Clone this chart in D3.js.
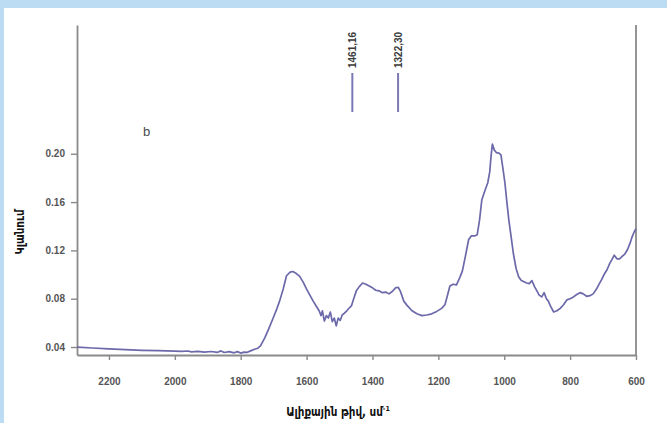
<!DOCTYPE html>
<html>
<head>
<meta charset="utf-8">
<script src="https://cdn.jsdelivr.net/npm/d3@7"></script>
<style>
  html, body { margin: 0; padding: 0; background: #ffffff; }
  svg { display: block; }
</style>
</head>
<body>
<script>
// IR spectrum: wavenumber (cm^-1) vs absorbance
const wavenumbers = [
  2297, 2250, 2200, 2150, 2100, 2050, 2000, 1980, 1960, 1950, 1930, 1910, 1890, 1870, 1860,
  1850, 1835, 1820, 1810, 1800, 1790, 1780, 1770, 1758, 1748, 1740, 1727, 1715, 1703, 1692,
  1682, 1671, 1661, 1650, 1642, 1632, 1621, 1610, 1600, 1590, 1580, 1570, 1562, 1556, 1552,
  1546, 1540, 1534, 1528, 1522, 1516, 1510, 1504, 1498, 1492, 1485, 1478, 1470, 1464, 1457,
  1449, 1440, 1430, 1420, 1410, 1400, 1390, 1380, 1370, 1360, 1350, 1340, 1330, 1322, 1315,
  1305, 1295, 1280, 1265, 1250, 1235, 1220, 1205, 1190, 1180, 1172, 1165, 1155, 1145, 1135,
  1127, 1118, 1108, 1100, 1090, 1082, 1075, 1068, 1058, 1050, 1044, 1040, 1036, 1030, 1024,
  1016, 1010, 1004, 998, 992, 986, 980, 972, 964, 956, 948, 940, 932, 924, 916,
  908, 900, 894, 886, 879, 872, 866, 860, 850, 840, 830, 820, 810, 800, 790,
  780, 770, 760, 750, 740, 730, 720, 712, 704, 697, 688, 680, 672, 666, 658,
  650, 642, 634, 626, 618, 612, 606, 600
];
const absorbance = [
  0.0400, 0.0392, 0.0385, 0.0378, 0.0373, 0.0370, 0.0366, 0.0364, 0.0367, 0.0360, 0.0364, 0.0358, 0.0363, 0.0356, 0.0368,
  0.0355, 0.0362, 0.0352, 0.0362, 0.0350, 0.0358, 0.0356, 0.0368, 0.0382, 0.0390, 0.0410, 0.0476, 0.0550, 0.0630, 0.0705,
  0.0780, 0.0880, 0.0990, 0.1020, 0.1025, 0.1010, 0.0985, 0.0935, 0.0880, 0.0830, 0.0780, 0.0735, 0.0700, 0.0660, 0.0700,
  0.0615, 0.0660, 0.0640, 0.0690, 0.0610, 0.0640, 0.0575, 0.0640, 0.0620, 0.0665, 0.0680, 0.0700, 0.0725, 0.0740, 0.0800,
  0.0865, 0.0900, 0.0930, 0.0920, 0.0905, 0.0890, 0.0870, 0.0865, 0.0850, 0.0855, 0.0840, 0.0860, 0.0890, 0.0895, 0.0860,
  0.0780, 0.0745, 0.0700, 0.0675, 0.0660, 0.0665, 0.0675, 0.0695, 0.0720, 0.0750, 0.0830, 0.0905, 0.0920, 0.0915, 0.0975,
  0.1030, 0.1150, 0.1290, 0.1320, 0.1320, 0.1330, 0.1450, 0.1620, 0.1700, 0.1760, 0.1850, 0.1980, 0.2080, 0.2030, 0.2010,
  0.2005, 0.1990, 0.1880, 0.1760, 0.1600, 0.1450, 0.1330, 0.1170, 0.1050, 0.0980, 0.0950, 0.0940, 0.0930, 0.0925, 0.0950,
  0.0900, 0.0860, 0.0830, 0.0815, 0.0850, 0.0800, 0.0780, 0.0740, 0.0690, 0.0700, 0.0720, 0.0750, 0.0790, 0.0800, 0.0815,
  0.0835, 0.0850, 0.0840, 0.0820, 0.0825, 0.0840, 0.0880, 0.0920, 0.0960, 0.1000, 0.1040, 0.1090, 0.1130, 0.1160, 0.1130,
  0.1130, 0.1150, 0.1170, 0.1205, 0.1260, 0.1310, 0.1350, 0.1380
];

const xTicks = [2200, 2000, 1800, 1600, 1400, 1200, 1000, 800, 600];
const yTicks = [0.04, 0.08, 0.12, 0.16, 0.20];
const xDomain = [2297, 600];
const yDomain = [0.0334, 0.3066];

// marked band positions
const peakPositions = [1461.16, 1322.30];
const peakLabels = ["1461,16", "1322,30"];

const panelLabel = "b";
const xTitle = "Ալիքային թիվ, սմ";
const xTitleSup = "-1";
const yTitle = "Կլանում";

const W = 667, H = 423;
const plot = { left: 77, right: 636, top: 25, bottom: 355 };

const svg = d3.select("body").append("svg")
  .attr("width", W).attr("height", H);

// page frame
svg.append("rect").attr("width", W).attr("height", H).attr("fill", "#ffffff");
svg.append("rect").attr("x", 0).attr("y", 0).attr("width", W).attr("height", 8).attr("fill", "#bcdcf3");
svg.append("rect").attr("x", 0).attr("y", 0).attr("width", 4).attr("height", H).attr("fill", "#bcdcf3");

const x = d3.scaleLinear().domain(xDomain).range([plot.left, plot.right]);
const y = d3.scaleLinear().domain(yDomain).range([plot.bottom, plot.top]);

const axisColor = "#8a8a8a";
const tickFont = "'Liberation Sans', Arial, sans-serif";
const tickColor = "#555555";

// x axis
const gx = svg.append("g")
  .attr("transform", `translate(0,${plot.bottom})`)
  .call(d3.axisBottom(x).tickValues(xTicks).tickFormat(d3.format("d")).tickSize(5).tickSizeOuter(0));
gx.select(".domain").attr("stroke", axisColor).attr("stroke-width", 1.8);
gx.selectAll(".tick line").attr("stroke", axisColor).attr("stroke-width", 1.4);
gx.selectAll(".tick text")
  .attr("y", 30).attr("dy", 0)
  .attr("fill", tickColor)
  .style("font-family", tickFont).style("font-size", "10px").style("font-weight", "bold");

// y axis
const gy = svg.append("g")
  .attr("transform", `translate(${plot.left},0)`)
  .call(d3.axisLeft(y).tickValues(yTicks).tickFormat(d3.format(".2f")).tickSize(6).tickSizeOuter(0));
gy.select(".domain").attr("stroke", axisColor).attr("stroke-width", 1.8);
gy.selectAll(".tick line").attr("stroke", axisColor).attr("stroke-width", 1.4);
gy.selectAll(".tick text")
  .attr("x", -12)
  .attr("fill", tickColor)
  .style("font-family", tickFont).style("font-size", "10px").style("font-weight", "bold");

// right frame line
svg.append("line")
  .attr("x1", x(xDomain[1])).attr("x2", x(xDomain[1]))
  .attr("y1", y(yDomain[1])).attr("y2", y(yDomain[0]))
  .attr("stroke", axisColor).attr("stroke-width", 1.8);

// spectrum
const pts = wavenumbers.map((w, i) => [w, absorbance[i]]);
svg.append("path")
  .datum(pts)
  .attr("fill", "none")
  .attr("stroke", "#6b69a9")
  .attr("stroke-width", 1.7)
  .attr("stroke-linejoin", "round")
  .attr("d", d3.line().x(d => x(d[0])).y(d => y(d[1])));

// band markers
const marks = svg.append("g");
peakPositions.forEach((p, i) => {
  const px = x(p);
  marks.append("line")
    .attr("x1", px).attr("x2", px).attr("y1", 73).attr("y2", 112)
    .attr("stroke", "#7a78b4").attr("stroke-width", 2);
  marks.append("text")
    .attr("transform", `translate(${px + 3.5},68) rotate(-90)`)
    .attr("text-anchor", "start")
    .attr("fill", "#3a3a3a")
    .style("font-family", tickFont).style("font-size", "10px").style("font-weight", "bold")
    .text(peakLabels[i]);
});

// panel label
svg.append("text")
  .attr("x", 143).attr("y", 136)
  .attr("fill", "#4a4a4a")
  .style("font-family", tickFont).style("font-size", "13px")
  .text(panelLabel);

// axis titles
const armFont = "'DejaVu Sans Condensed', 'DejaVu Sans', sans-serif";
const xt = svg.append("text")
  .attr("x", 338).attr("y", 416)
  .attr("text-anchor", "middle")
  .attr("fill", "#111111")
  .style("font-family", armFont).style("font-size", "11.5px").style("font-weight", "bold");
xt.append("tspan").text(xTitle);
xt.append("tspan").attr("dy", -5).style("font-size", "7px").text(xTitleSup);

svg.append("text")
  .attr("transform", `translate(24,232) rotate(-90)`)
  .attr("text-anchor", "middle")
  .attr("fill", "#111111")
  .style("font-family", armFont).style("font-size", "11.5px").style("font-weight", "bold")
  .text(yTitle);
</script>
</body>
</html>
